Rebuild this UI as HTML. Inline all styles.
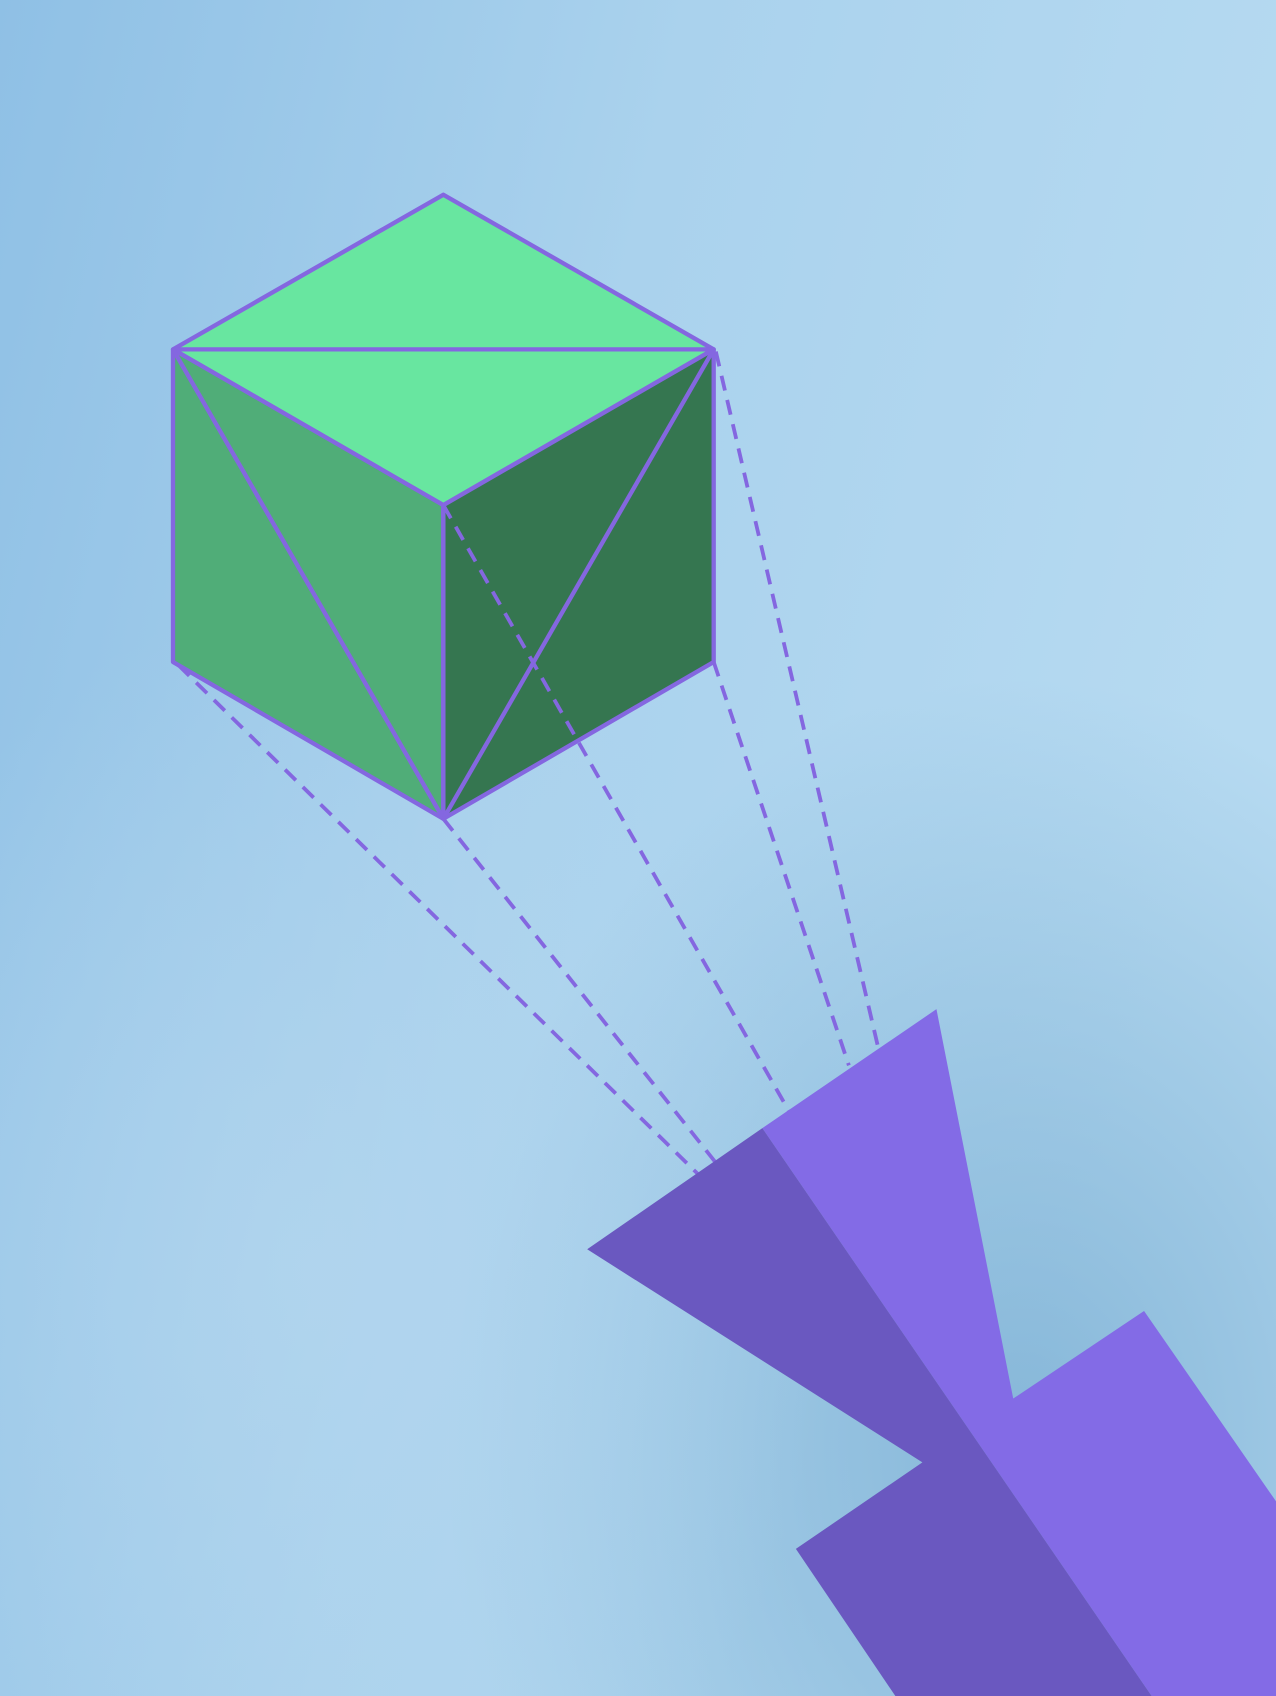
<!DOCTYPE html>
<html>
<head>
<meta charset="utf-8">
<style>
html,body{margin:0;padding:0;width:1276px;height:1696px;overflow:hidden;background:#a4cbe8;}
svg{display:block;}
</style>
</head>
<body>
<svg width="1276" height="1696" viewBox="0 0 1180 1568" preserveAspectRatio="none" xmlns="http://www.w3.org/2000/svg">
  <defs>
    <linearGradient id="sky" x1="0" y1="0" x2="1" y2="0.3">
      <stop offset="0" stop-color="#8fc0e5"/>
      <stop offset="0.5" stop-color="#aad2ed"/>
      <stop offset="1" stop-color="#b6daf1"/>
    </linearGradient>
    <radialGradient id="cloud1" cx="0.8" cy="0.85" r="0.45">
      <stop offset="0" stop-color="#7aaed2" stop-opacity="0.8"/>
      <stop offset="1" stop-color="#7aaed2" stop-opacity="0"/>
    </radialGradient>
    <radialGradient id="cloud2" cx="0.25" cy="0.75" r="0.4">
      <stop offset="0" stop-color="#b4d6ee" stop-opacity="0.7"/>
      <stop offset="1" stop-color="#b4d6ee" stop-opacity="0"/>
    </radialGradient>
  </defs>
  <rect x="0" y="0" width="1180" height="1568" fill="url(#sky)"/>
  <rect x="0" y="0" width="1180" height="1568" fill="url(#cloud1)"/>
  <rect x="0" y="0" width="1180" height="1568" fill="url(#cloud2)"/>

  <g stroke="#8467e0" stroke-width="4" stroke-linejoin="round">
    <polygon points="410,180 660,323 410,467 160,323" fill="#68e6a0"/>
    <polygon points="160,323 410,467 410,757 160,612" fill="#50ad78"/>
    <polygon points="410,467 660,323 660,612 410,757" fill="#357650"/>
    <line x1="160" y1="323" x2="660" y2="323"/>
    <line x1="160" y1="323" x2="410" y2="757"/>
    <line x1="660" y1="323" x2="410" y2="757"/>
  </g>

  <g stroke="#8467e0" stroke-width="3.5" stroke-dasharray="14 9" fill="none">
    <line x1="165" y1="615" x2="645" y2="1085"/>
    <line x1="410" y1="757" x2="662" y2="1075"/>
    <line x1="410" y1="467" x2="730" y2="1028"/>
    <line x1="660" y1="612" x2="785" y2="985"/>
    <line x1="662" y1="325" x2="812" y2="968"/>
  </g>

  <g>
    <polygon points="705,1043 866,933 937,1293 1058,1212 1180,1388 1180,1568 1065,1568" fill="#836be6"/>
    <polygon points="543,1155 705,1043 1065,1568 828,1568 736,1432 853,1352" fill="#6a58c0"/>
  </g>
</svg>
</body>
</html>
